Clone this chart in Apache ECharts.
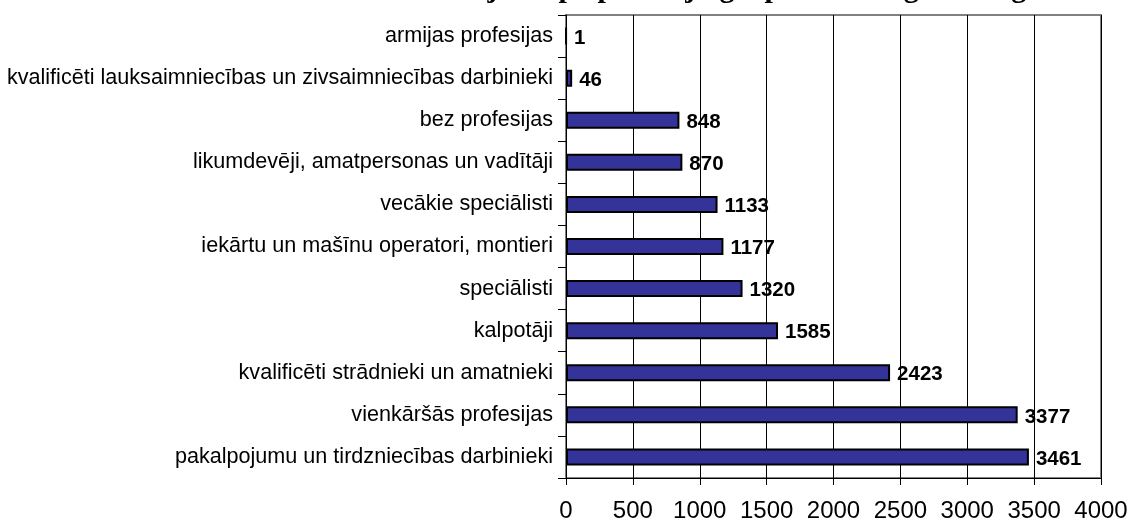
<!DOCTYPE html>
<html>
<head>
<meta charset="utf-8">
<script src="https://cdn.jsdelivr.net/npm/echarts@6/dist/echarts.min.js"></script>
<style>
html,body{margin:0;padding:0;background:#fff;}
#chart{width:1133px;height:527px;}
</style>
</head>
<body>
<div id="chart"></div>
<script>
// categories listed bottom-to-top
const categories = [
  "pakalpojumu un tirdzniecības darbinieki",
  "vienkāršās profesijas",
  "kvalificēti strādnieki un amatnieki",
  "kalpotāji",
  "speciālisti",
  "iekārtu un mašīnu operatori, montieri",
  "vecākie speciālisti",
  "likumdevēji, amatpersonas un vadītāji",
  "bez profesijas",
  "kvalificēti lauksaimniecības un zivsaimniecības darbinieki",
  "armijas profesijas"
];
const values = [3461, 3377, 2423, 1585, 1320, 1177, 1133, 870, 848, 46, 1];
const titleText = "Bezdarbnieku sadalījums pa profesiju grupām 2004. gada beigās";

const chart = echarts.init(document.getElementById('chart'));
chart.setOption({
  animation: false,
  backgroundColor: '#fff',
  title: {
    text: titleText,
    left: 220,
    top: -31,
    textStyle: {fontFamily: 'Liberation Serif, Times New Roman, serif', fontWeight: 'bold', fontSize: 30, color: '#000'}
  },
  grid: {left: 566, right: 32, top: 15, bottom: 49, containLabel: false, show: true, borderColor: '#808080', borderWidth: 2},
  xAxis: {
    type: 'value', min: 0, max: 4000, interval: 500,
    axisLine: {show: true, lineStyle: {color: '#000', width: 1}},
    axisTick: {show: true, inside: false, length: 7, lineStyle: {color: '#000'}},
    splitLine: {show: true, lineStyle: {color: '#000', width: 1}},
    axisLabel: {fontFamily: 'Liberation Sans, Arial, sans-serif', fontSize: 24, color: '#000', margin: 21,
      formatter: function (v) { return String(v); }}
  },
  yAxis: {
    type: 'category', data: categories,
    axisLine: {show: true, lineStyle: {color: '#000', width: 1}},
    axisTick: {show: true, inside: false, length: 8, alignWithLabel: false, lineStyle: {color: '#000'}},
    axisLabel: {fontFamily: 'Liberation Sans, Arial, sans-serif', fontSize: 21.6, color: '#000', margin: 13}
  },
  series: [{
    type: 'bar', data: values, barWidth: 17,
    itemStyle: {color: '#333399', borderColor: '#000', borderWidth: 2},
    label: {show: true, position: 'right', distance: 7, offset: [0, 2], fontFamily: 'Liberation Sans, Arial, sans-serif', fontWeight: 'bold', fontSize: 20.5, color: '#000'}
  }]
});
</script>
</body>
</html>
